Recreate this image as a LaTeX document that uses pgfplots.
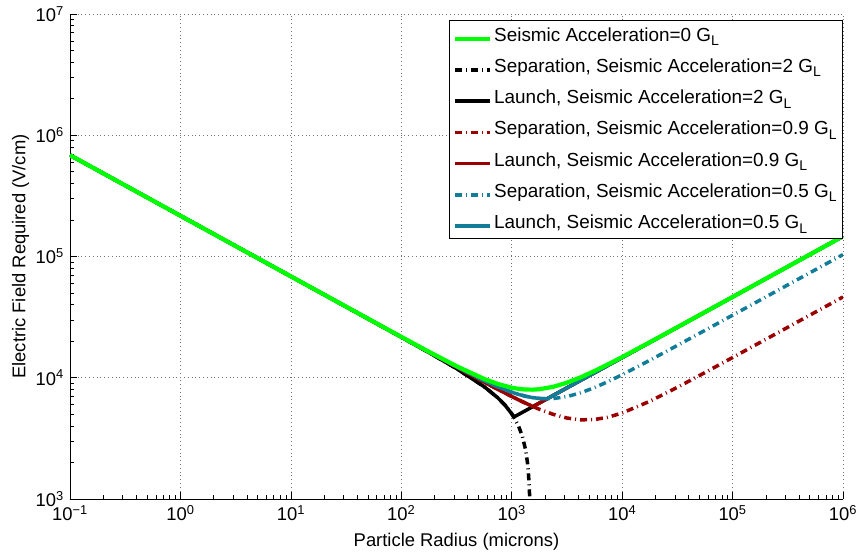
\documentclass[border=0pt]{standalone}
\usepackage{pgfplots}
\pgfplotsset{compat=1.18}
\usepackage{fontspec}
\setmainfont{Liberation Sans}
\definecolor{mygreen}{RGB}{0,255,0}
\definecolor{myred}{RGB}{155,0,0}
\definecolor{myteal}{RGB}{18,125,152}
\newcommand{\GL}{G\raisebox{-0.45ex}{\fontsize{14bp}{14bp}\selectfont L}}
\newcommand{\sep}[1]{\textsuperscript{#1}}
\begin{document}
\fontsize{18.4bp}{22bp}\selectfont
\begin{tikzpicture}
\begin{axis}[
 scale only axis, width=773bp, height=485bp,
 xmode=log, ymode=log, xmin=0.1, xmax=1e6, ymin=1e3, ymax=1e7,
 axis lines=left, axis line style={-, line width=0.8bp},
 tick align=inside, major tick length=7bp, minor tick length=4bp,
 tick style={black, line width=0.6bp},
 xtick={0.1,1,10,100,1000,10000,100000,1000000},
 xticklabels={10\sep{−1},10\sep{0},10\sep{1},10\sep{2},10\sep{3},10\sep{4},10\sep{5},10\sep{6}},
 minor xtick={0.2,0.3,0.4,0.5,0.6,0.7,0.8,0.9,2,3,4,5,6,7,8,9,20,30,40,50,60,70,80,90,200,300,400,500,600,700,800,900,2000,3000,4000,5000,6000,7000,8000,9000,20000,30000,40000,50000,60000,70000,80000,90000,200000,300000,400000,500000,600000,700000,800000,900000},
 ytick={1000,10000,100000,1000000,10000000},
 yticklabels={10\sep{3},10\sep{4},10\sep{5},10\sep{6},10\sep{7}},
 minor ytick={2000,3000,4000,5000,6000,7000,8000,9000,20000,30000,40000,50000,60000,70000,80000,90000,200000,300000,400000,500000,600000,700000,800000,900000,2000000,3000000,4000000,5000000,6000000,7000000,8000000,9000000},
 grid=major, major grid style={black!55, line width=0.6bp, dash pattern=on 0.8bp off 3bp},
 minor grid style={draw=none},
 xlabel={Particle Radius (microns)}, ylabel={Electric Field Required (V/cm)},
 ylabel style={yshift=-6bp},
 ticklabel style={font=\fontsize{18.4bp}{22bp}\selectfont},
 label style={font=\fontsize{18.4bp}{22bp}\selectfont},
 legend style={at={(1,1)}, anchor=north east, yshift=-6bp, draw=black, line width=0.8bp, fill=white,
   font=\fontsize{18.9bp}{22bp}\selectfont, inner xsep=4bp, inner ysep=5bp, row sep=10.8bp,
   nodes={inner xsep=2bp}},
 legend cell align=left,
 legend image code/.code={\draw[#1] (0bp,-3bp) -- (35bp,-3bp);},
 every axis plot/.append style={line width=3.5bp},
]
\addlegendimage{mygreen, line width=4.2bp}\addlegendentry{Seismic Acceleration=0 \GL}
\addlegendimage{black, line width=3.5bp, dash pattern=on 7bp off 4bp on 1bp off 4bp}\addlegendentry{Separation, Seismic Acceleration=2 \GL}
\addlegendimage{black, line width=3.5bp}\addlegendentry{Launch, Seismic Acceleration=2 \GL}
\addlegendimage{myred, line width=3.5bp, dash pattern=on 7bp off 4bp on 1bp off 4bp}\addlegendentry{Separation, Seismic Acceleration=0.9 \GL\hspace{10bp}}
\addlegendimage{myred, line width=3.5bp}\addlegendentry{Launch, Seismic Acceleration=0.9 \GL}
\addlegendimage{myteal, line width=3.5bp, dash pattern=on 7bp off 4bp on 1bp off 4bp}\addlegendentry{Separation, Seismic Acceleration=0.5 \GL}
\addlegendimage{myteal, line width=3.5bp}\addlegendentry{Launch, Seismic Acceleration=0.5 \GL}

% Separation, 2 G_L
\addplot[black, dash pattern=on 7bp off 4bp on 1bp off 4bp, forget plot] coordinates {
(0.1,685565)(1,216795)(10,68555)(100,21630)(177.83,16139)(316.23,11909)(562.34,8455)(749.89,6823)(866,5971)(1000,5050)(1045.5,4741)(1154.8,3984)(1250,3275)(1333.5,2564)(1390,1982)(1412.5,1704)(1440,1296)(1455.5,1000)(1460,896)};
% Launch, 2 G_L
\addplot[black, forget plot] coordinates {
(0.1,685565)(1,216795)(10,68555)(100,21630)(177.83,16139)(316.23,11909)(562.34,8455)(749.89,6823)(866,5971)(1000,5050)(1045.5,4741)(1154.8,4983)(1333.5,5354)(1539.9,5754)(1778.3,6183)(2371.4,7140)(3162.3,8246)(4217,9522)(5623.4,10995)(7498.9,12698)(10000,14663)(17783,19553)(31623,26075)(56234,34771)(100000,46368)(316228,82456)(1000000,146629)};
% Separation, 0.9 G_L
\addplot[myred, dash pattern=on 7bp off 4bp on 1bp off 4bp, forget plot] coordinates {
(0.1,685565)(1,216795)(10,68557)(100,21685)(177.83,16269)(316.23,12219)(562.34,9208)(749.89,8018)(1000,7011)(1154.8,6571)(1333.5,6174)(1539.9,5816)(1778.3,5500)(2371.4,4992)(3162.3,4654)(4217,4496)(5623.4,4522)(7498.9,4732)(10000,5119)(17783,6393)(31623,8335)(56234,11033)(100000,14679)(316228,26078)(1000000,46368)};
% Launch, 0.9 G_L
\addplot[myred, forget plot] coordinates {
(0.1,685565)(1,216795)(10,68557)(100,21685)(177.83,16269)(316.23,12219)(562.34,9208)(749.89,8018)(1000,7011)(1154.8,6571)(1333.5,6174)(1539.9,5816)(1558.5,5789)(1778.3,6183)(2371.4,7140)(3162.3,8246)(4217,9522)(5623.4,10995)(7498.9,12698)(10000,14663)(17783,19553)(31623,26075)(56234,34771)(100000,46368)(316228,82456)(1000000,146629)};
% Separation, 0.5 G_L
\addplot[myteal, dash pattern=on 7bp off 4bp on 1bp off 4bp, forget plot] coordinates {
(0.1,685565)(1,216795)(10,68557)(100,21704)(177.83,16316)(316.23,12330)(562.34,9467)(749.89,8411)(1000,7599)(1154.8,7288)(1333.5,7041)(1539.9,6861)(1778.3,6749)(2091,6705)(2371.4,6731)(3162.3,6990)(4217,7515)(5623.4,8295)(7498.9,9321)(10000,10592)(17783,13922)(31623,18478)(56234,24604)(100000,32794)(316228,58306)(1000000,103683)};
% Launch, 0.5 G_L
\addplot[myteal, forget plot] coordinates {
(0.1,685565)(1,216795)(10,68557)(100,21704)(177.83,16316)(316.23,12330)(562.34,9467)(749.89,8411)(1000,7599)(1154.8,7288)(1333.5,7041)(1539.9,6861)(1778.3,6749)(2091,6705)(2371.4,7140)(3162.3,8246)(4217,9522)(5623.4,10995)(7498.9,12698)(10000,14663)(17783,19553)(31623,26075)(56234,34771)(100000,46368)(316228,82456)(1000000,146629)};
% Seismic 0 G_L
\addplot[mygreen, line width=4.2bp, forget plot] coordinates {
(0.1,685565)(1,216795)(10,68558)(100,21729)(177.83,16374)(316.23,12467)(562.34,9781)(749.89,8877)(1000,8276)(1154.8,8095)(1333.5,7995)(1539.9,7977)(1778.3,8041)(2371.4,8415)(3162.3,9102)(4217,10090)(5623.4,11369)(7498.9,12942)(10000,14822)(17783,19621)(31623,26103)(56234,34782)(100000,46374)(316228,82457)(1000000,146629)};
\end{axis}
\pgfresetboundingbox
\path ([shift={(-70bp,-58bp)}]current axis.south west) rectangle ([shift={(16bp,14bp)}]current axis.north east);
\end{tikzpicture}
\end{document}
